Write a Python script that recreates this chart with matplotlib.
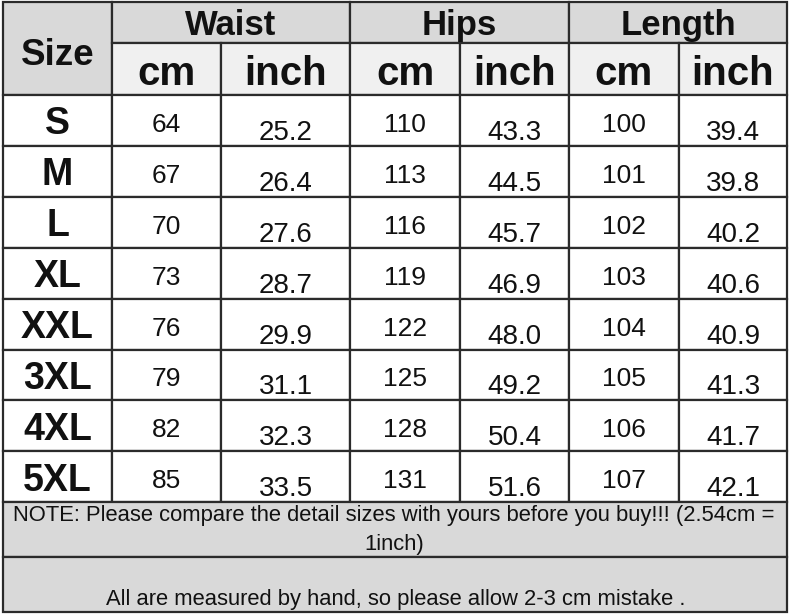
import matplotlib.pyplot as plt
from matplotlib.patches import Rectangle

# table content
sizes = ["S", "M", "L", "XL", "XXL", "3XL", "4XL", "5XL"]
waist_cm = ["64", "67", "70", "73", "76", "79", "82", "85"]
waist_inch = ["25.2", "26.4", "27.6", "28.7", "29.9", "31.1", "32.3", "33.5"]
hips_cm = ["110", "113", "116", "119", "122", "125", "128", "131"]
hips_inch = ["43.3", "44.5", "45.7", "46.9", "48.0", "49.2", "50.4", "51.6"]
length_cm = ["100", "101", "102", "103", "104", "105", "106", "107"]
length_inch = ["39.4", "39.8", "40.2", "40.6", "40.9", "41.3", "41.7", "42.1"]
groups = ["Waist", "Hips", "Length"]
units = ["cm", "inch"]
note1 = "NOTE: Please compare the detail sizes with yours before you buy!!! (2.54cm ="
note2 = "1inch)"
note3 = "All are measured by hand, so please allow 2-3 cm mistake ."

# layout (pixels)
col_x = [3, 112, 221, 350, 460, 569, 679, 787]
head_y = [2, 43, 95]
row_h = 50.9
note_y = [502, 557, 612]

dark = "#2b2b2b"
gray = "#d9d9d9"
light = "#f0f0f0"
font = ["Liberation Sans", "DejaVu Sans"]

fig = plt.figure(figsize=(7.9, 6.15), dpi=100)
ax = fig.add_axes([0, 0, 1, 1])
ax.set_xlim(0, 790)
ax.set_ylim(615, 0)
ax.axis("off")


def cell(x0, y0, x1, y1, color):
    ax.add_patch(Rectangle((x0, y0), x1 - x0, y1 - y0, facecolor=color,
                           edgecolor=dark, linewidth=1.6, zorder=1))


# header
cell(col_x[0], head_y[0], col_x[1], head_y[2], gray)
ax.text((col_x[0] + col_x[1]) / 2, 65, "Size", ha="center", va="baseline",
        fontsize=26.5, fontweight="bold", family=font, color="#111")
for g, name in enumerate(groups):
    x0 = col_x[1 + 2 * g]
    x1 = col_x[3 + 2 * g]
    cell(x0, head_y[0], x1, head_y[1], gray)
    ax.text((x0 + x1) / 2, 35, name, ha="center", va="baseline",
            fontsize=25, fontweight="bold", family=font, color="#111")
    for u, unit in enumerate(units):
        ux0 = col_x[1 + 2 * g + u]
        ux1 = col_x[2 + 2 * g + u]
        cell(ux0, head_y[1], ux1, head_y[2], light)
        ax.text((ux0 + ux1) / 2, 85, unit, ha="center", va="baseline",
                fontsize=29, fontweight="bold", family=font, color="#111")

# body
columns = [waist_cm, waist_inch, hips_cm, hips_inch, length_cm, length_inch]
for i, size in enumerate(sizes):
    top = head_y[2] + i * row_h
    bot = top + row_h
    cell(col_x[0], top, col_x[1], bot, "white")
    ax.text((col_x[0] + col_x[1]) / 2, top + 39.5, size, ha="center", va="baseline",
            fontsize=27, fontweight="bold", family=font, color="#111")
    for c, vals in enumerate(columns):
        x0, x1 = col_x[c + 1], col_x[c + 2]
        cell(x0, top, x1, bot, "white")
        if c % 2 == 0:
            base, fs = top + 37, 19
        else:
            base, fs = top + 45, 20
        ax.text((x0 + x1) / 2, base, vals[i], ha="center", va="baseline",
                fontsize=fs, family=font, color="#111")

# notes
cell(col_x[0], note_y[0], col_x[-1], note_y[1], gray)
cell(col_x[0], note_y[1], col_x[-1], note_y[2], gray)
ax.text(394, 521, note1, ha="center", va="baseline", fontsize=15.8,
        family=font, color="#111")
ax.text(394, 550, note2, ha="center", va="baseline", fontsize=15.8,
        family=font, color="#111")
ax.text(396, 605, note3, ha="center", va="baseline", fontsize=15.8,
        family=font, color="#111")

fig.savefig("out.png", dpi=100, facecolor="white")
